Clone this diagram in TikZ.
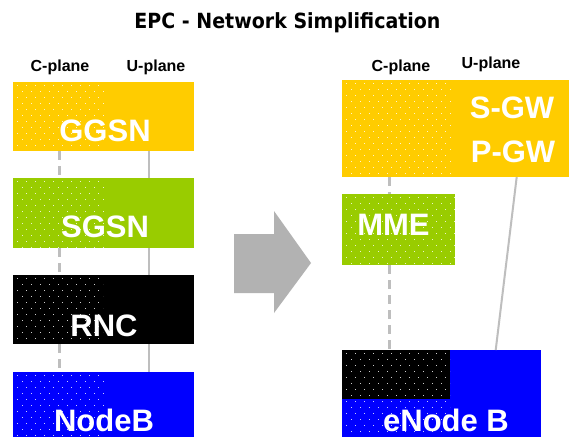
\documentclass[tikz,border=0pt]{standalone}
\usepackage{fontspec}
\setmainfont{Liberation Sans}
\newfontfamily\titlefont{DejaVu Sans}
\definecolor{ggsnc}{RGB}{255,204,0}
\definecolor{sgsnc}{RGB}{153,204,0}
\definecolor{nodebc}{RGB}{0,0,255}
\definecolor{arrowc}{RGB}{178,178,178}
\definecolor{linec}{RGB}{190,190,190}
\newcommand\dotarea[4]{%
  \begin{scope}
    \clip (#1,#2) rectangle (#3,#4);
    \foreach \i in {0,...,18} {
      \foreach \j in {0,...,13} {
        \fill[dotstyle] ({#1+4+9*\j+4.5*mod(\i,2)},{#2+3+6*\i}) rectangle ++(1.4,1.4);
      }
    }
  \end{scope}}
\begin{document}
\begin{tikzpicture}[x=1pt,y=-1pt,
  box/.style={draw=none,inner sep=0pt,outer sep=0pt,anchor=north west},
  dotstyle/.style={white,opacity=0.8},
  lbl/.style={text=white,font=\bfseries\fontsize{31}{31}\selectfont,inner sep=0pt},
  hdr/.style={text=black,font=\bfseries\fontsize{16}{16}\selectfont,inner sep=0pt},
  dashc/.style={linec,line width=3pt,dash pattern=on 9pt off 6pt},
  solc/.style={linec,line width=2pt}]
\useasboundingbox[fill=white] (0,0) rectangle (569,437);

% title
\node[font=\titlefont\bfseries\fontsize{19}{19}\selectfont,inner sep=0pt] (title) at (287.5,23) {\scalebox{1}[1.1]{EPC - Network Simplification}};

% headers
\node[hdr] (lcp) at (60,67) {C-plane};
\node[hdr] (lup) at (156,67) {U-plane};
\node[hdr] (rcp) at (401,67) {C-plane};
\node[hdr] (rup) at (491,64) {U-plane};

% left column boxes
\node[box,fill=ggsnc,minimum width=181pt,minimum height=69pt] (ggsn) at (13,82) {};
\node[box,fill=sgsnc,minimum width=181pt,minimum height=70pt] (sgsn) at (13,178) {};
\node[box,fill=black,minimum width=181pt,minimum height=69pt] (rnc) at (13,275) {};
\node[box,fill=nodebc,minimum width=181pt,minimum height=65pt] (nodeb) at (13,372) {};
\dotarea{13}{82}{105}{151}
\dotarea{13}{178}{105}{248}
\dotarea{13}{275}{103}{344}
\dotarea{13}{372}{105}{437}

% left connectors
\draw[dashc] ([xshift=46pt]ggsn.south west) -- ([xshift=46pt]sgsn.north west);
\draw[dashc] ([xshift=46pt]sgsn.south west) -- ([xshift=46pt]rnc.north west);
\draw[dashc] ([xshift=46pt]rnc.south west) -- ([xshift=46pt]nodeb.north west);
\draw[solc] ([xshift=135.5pt]ggsn.south west) -- ([xshift=135.5pt]sgsn.north west);
\draw[solc] ([xshift=135.5pt]sgsn.south west) -- ([xshift=135.5pt]rnc.north west);
\draw[solc] ([xshift=135.5pt]rnc.south west) -- ([xshift=135.5pt]nodeb.north west);

% left labels
\node[lbl] (ggsnt) at (105,131) {GGSN};
\node[lbl] (sgsnt) at (105,227) {SGSN};
\node[lbl] (rnct) at (104,326) {RNC};
\node[lbl] (nodebt) at (104,420) {NodeB};

% arrow
\fill[arrowc] (234,234) -- (274,234) -- (274,211) -- (311,263) -- (274,313) -- (274,293) -- (234,293) -- cycle;

% right column boxes
\node[box,fill=ggsnc,minimum width=227pt,minimum height=97pt] (gw) at (342,80) {};
\node[box,fill=sgsnc,minimum width=113pt,minimum height=71pt] (mme) at (342,194) {};
\node[box,fill=nodebc,minimum width=199pt,minimum height=87pt] (enb) at (342,350) {};
\node[box,fill=black,minimum width=108pt,minimum height=49pt] (enbc) at (342,350) {};
\dotarea{342}{80}{451}{178}
\dotarea{342}{194}{455}{265}
\dotarea{342}{350}{450}{437}

% right connectors
\draw[dashc] ([xshift=47pt]gw.south west) -- ([xshift=47pt]mme.north west);
\draw[dashc] ([xshift=47pt]mme.south west) -- ([xshift=47pt]enb.north west);
\draw[solc] ([xshift=174.7pt]gw.south west) -- ([xshift=153.7pt]enb.north west);

% right labels
\node[lbl] (sgwt) at (512,108) {S-GW};
\node[lbl] (pgwt) at (513,152) {P-GW};
\node[lbl] (mmet) at (393.5,225) {MME};
\node[lbl] (enbt) at (446,420) {eNode B};
\end{tikzpicture}
\end{document}
